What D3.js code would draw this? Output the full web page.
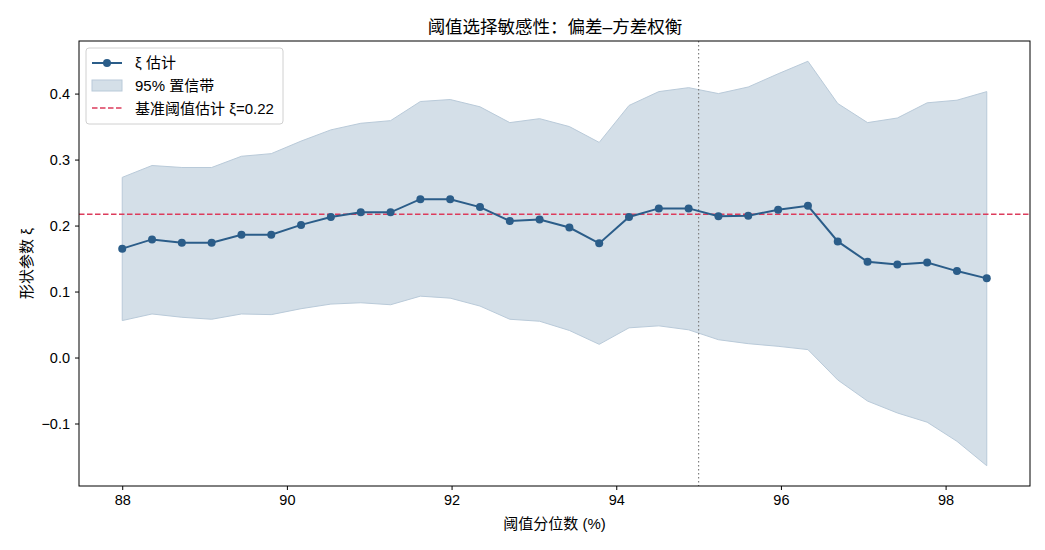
<!DOCTYPE html>
<html><head><meta charset="utf-8">
<script src="https://cdn.jsdelivr.net/npm/d3@7"></script>
<style>
body{margin:0;background:#fff;}
text{font-family:"Liberation Sans","Noto Sans CJK SC",sans-serif;fill:#000;}
</style></head><body>
<svg id="c" width="1045" height="550"></svg>
<script>
const quantiles = [88,88.362,88.724,89.086,89.448,89.810,90.172,90.534,90.897,91.259,91.621,91.983,92.345,92.707,93.069,93.431,93.793,94.155,94.517,94.879,95.241,95.603,95.966,96.328,96.690,97.052,97.414,97.776,98.138,98.5];
const xiEst = [0.165,0.179,0.174,0.174,0.186,0.186,0.201,0.213,0.220,0.220,0.240,0.240,0.228,0.207,0.209,0.197,0.173,0.213,0.226,0.226,0.214,0.215,0.224,0.230,0.176,0.145,0.141,0.144,0.131,0.120];
const ciUpper = [0.273,0.291,0.288,0.288,0.305,0.309,0.328,0.345,0.355,0.359,0.388,0.391,0.380,0.356,0.362,0.350,0.326,0.382,0.403,0.409,0.400,0.410,0.430,0.449,0.385,0.356,0.363,0.386,0.390,0.403];
const ciLower = [0.056,0.066,0.061,0.058,0.066,0.065,0.074,0.081,0.083,0.080,0.093,0.090,0.078,0.058,0.055,0.041,0.020,0.045,0.048,0.042,0.027,0.021,0.017,0.012,-0.034,-0.066,-0.084,-0.098,-0.127,-0.164];
const baseXi = 0.217;
const chosenQ = 95;
const xTicks = [88,90,92,94,96,98];
const yTicks = [-0.1,0.0,0.1,0.2,0.3,0.4];
const labels = {title:"阈值选择敏感性：偏差–方差权衡", x:"阈值分位数 (%)", y:"形状参数 ξ",
  est:"ξ 估计", band:"95% 置信带", base:"基准阈值估计 ξ=0.22"};

const svg = d3.select("#c");
const L=79,R=1030,T=41,B=486;
const x = d3.scaleLinear().domain([87.475,99.025]).range([L,R]);
const y = d3.scaleLinear().domain([-0.1947,0.4797]).range([B,T]);
const data = quantiles.map((q,i)=>({q,v:xiEst[i],lo:ciLower[i],hi:ciUpper[i]}));

const g = svg.append("g");
g.append("path").datum(data)
 .attr("d", d3.area().x(d=>x(d.q)).y0(d=>y(d.lo)).y1(d=>y(d.hi)))
 .attr("fill","#d4dfe8").attr("stroke","#b9cad9").attr("stroke-width",1);

g.append("line").attr("x1",x(chosenQ)).attr("x2",x(chosenQ)).attr("y1",T).attr("y2",B)
 .attr("stroke","#808080").attr("stroke-width",1.2).attr("stroke-dasharray","1.5,2.5");

g.append("line").attr("x1",L).attr("x2",R).attr("y1",y(baseXi)).attr("y2",y(baseXi))
 .attr("stroke","#dc3c5c").attr("stroke-width",1.5).attr("stroke-dasharray","5.5,2.5");

g.append("path").datum(data)
 .attr("d", d3.line().x(d=>x(d.q)).y(d=>y(d.v)))
 .attr("fill","none").attr("stroke","#2b5d89").attr("stroke-width",2);
g.selectAll("circle.pt").data(data).enter().append("circle")
 .attr("cx",d=>x(d.q)).attr("cy",d=>y(d.v)).attr("r",4).attr("fill","#2b5d89");

// axes
const fmt = d=> (d<0?"−":"")+Math.abs(d).toFixed(1);
const xa = svg.append("g").attr("transform",`translate(0,${B})`)
  .call(d3.axisBottom(x).tickValues(xTicks).tickSize(4).tickPadding(5).tickFormat(d3.format("d")));
const ya = svg.append("g").attr("transform",`translate(${L},0)`)
  .call(d3.axisLeft(y).tickValues(yTicks).tickSize(4).tickPadding(5).tickFormat(fmt));
[xa,ya].forEach(a=>{a.select(".domain").remove();
  a.selectAll("text").style("font-size","14.5px").style("font-family","'Liberation Sans','Noto Sans CJK SC',sans-serif");
  a.selectAll("line").attr("stroke","#000");});
svg.append("rect").attr("x",L).attr("y",T).attr("width",R-L).attr("height",B-T)
 .attr("fill","none").attr("stroke","#000").attr("stroke-width",1);

svg.append("text").attr("x",(L+R)/2+0.5).attr("y",33).attr("text-anchor","middle")
 .style("font-size","17.5px").text(labels.title);
svg.append("text").attr("x",(L+R)/2).attr("y",529).attr("text-anchor","middle")
 .style("font-size","15px").text(labels.x);
svg.append("text").attr("transform",`translate(32,${(T+B)/2}) rotate(-90)`).attr("text-anchor","middle")
 .style("font-size","15px").text(labels.y);

// legend
const lg = svg.append("g");
lg.append("rect").attr("x",86).attr("y",48).attr("width",197).attr("height",76).attr("rx",3)
 .attr("fill","#fff").attr("fill-opacity",0.85).attr("stroke","#d0d0d0");
lg.append("line").attr("x1",92).attr("x2",122).attr("y1",63).attr("y2",63).attr("stroke","#2b5d89").attr("stroke-width",2);
lg.append("circle").attr("cx",107).attr("cy",63).attr("r",4).attr("fill","#2b5d89");
lg.append("rect").attr("x",92).attr("y",80).attr("width",30).attr("height",11).attr("fill","#d4dfe8").attr("stroke","#b9cad9");
lg.append("line").attr("x1",92).attr("x2",122).attr("y1",108).attr("y2",108).attr("stroke","#dc3c5c").attr("stroke-width",1.5).attr("stroke-dasharray","5.5,2.5");
[[labels.est,68],[labels.band,91],[labels.base,114]].forEach(([t,yy])=>{
  lg.append("text").attr("x",135).attr("y",yy).style("font-size","15px").text(t);});
</script></body></html>
